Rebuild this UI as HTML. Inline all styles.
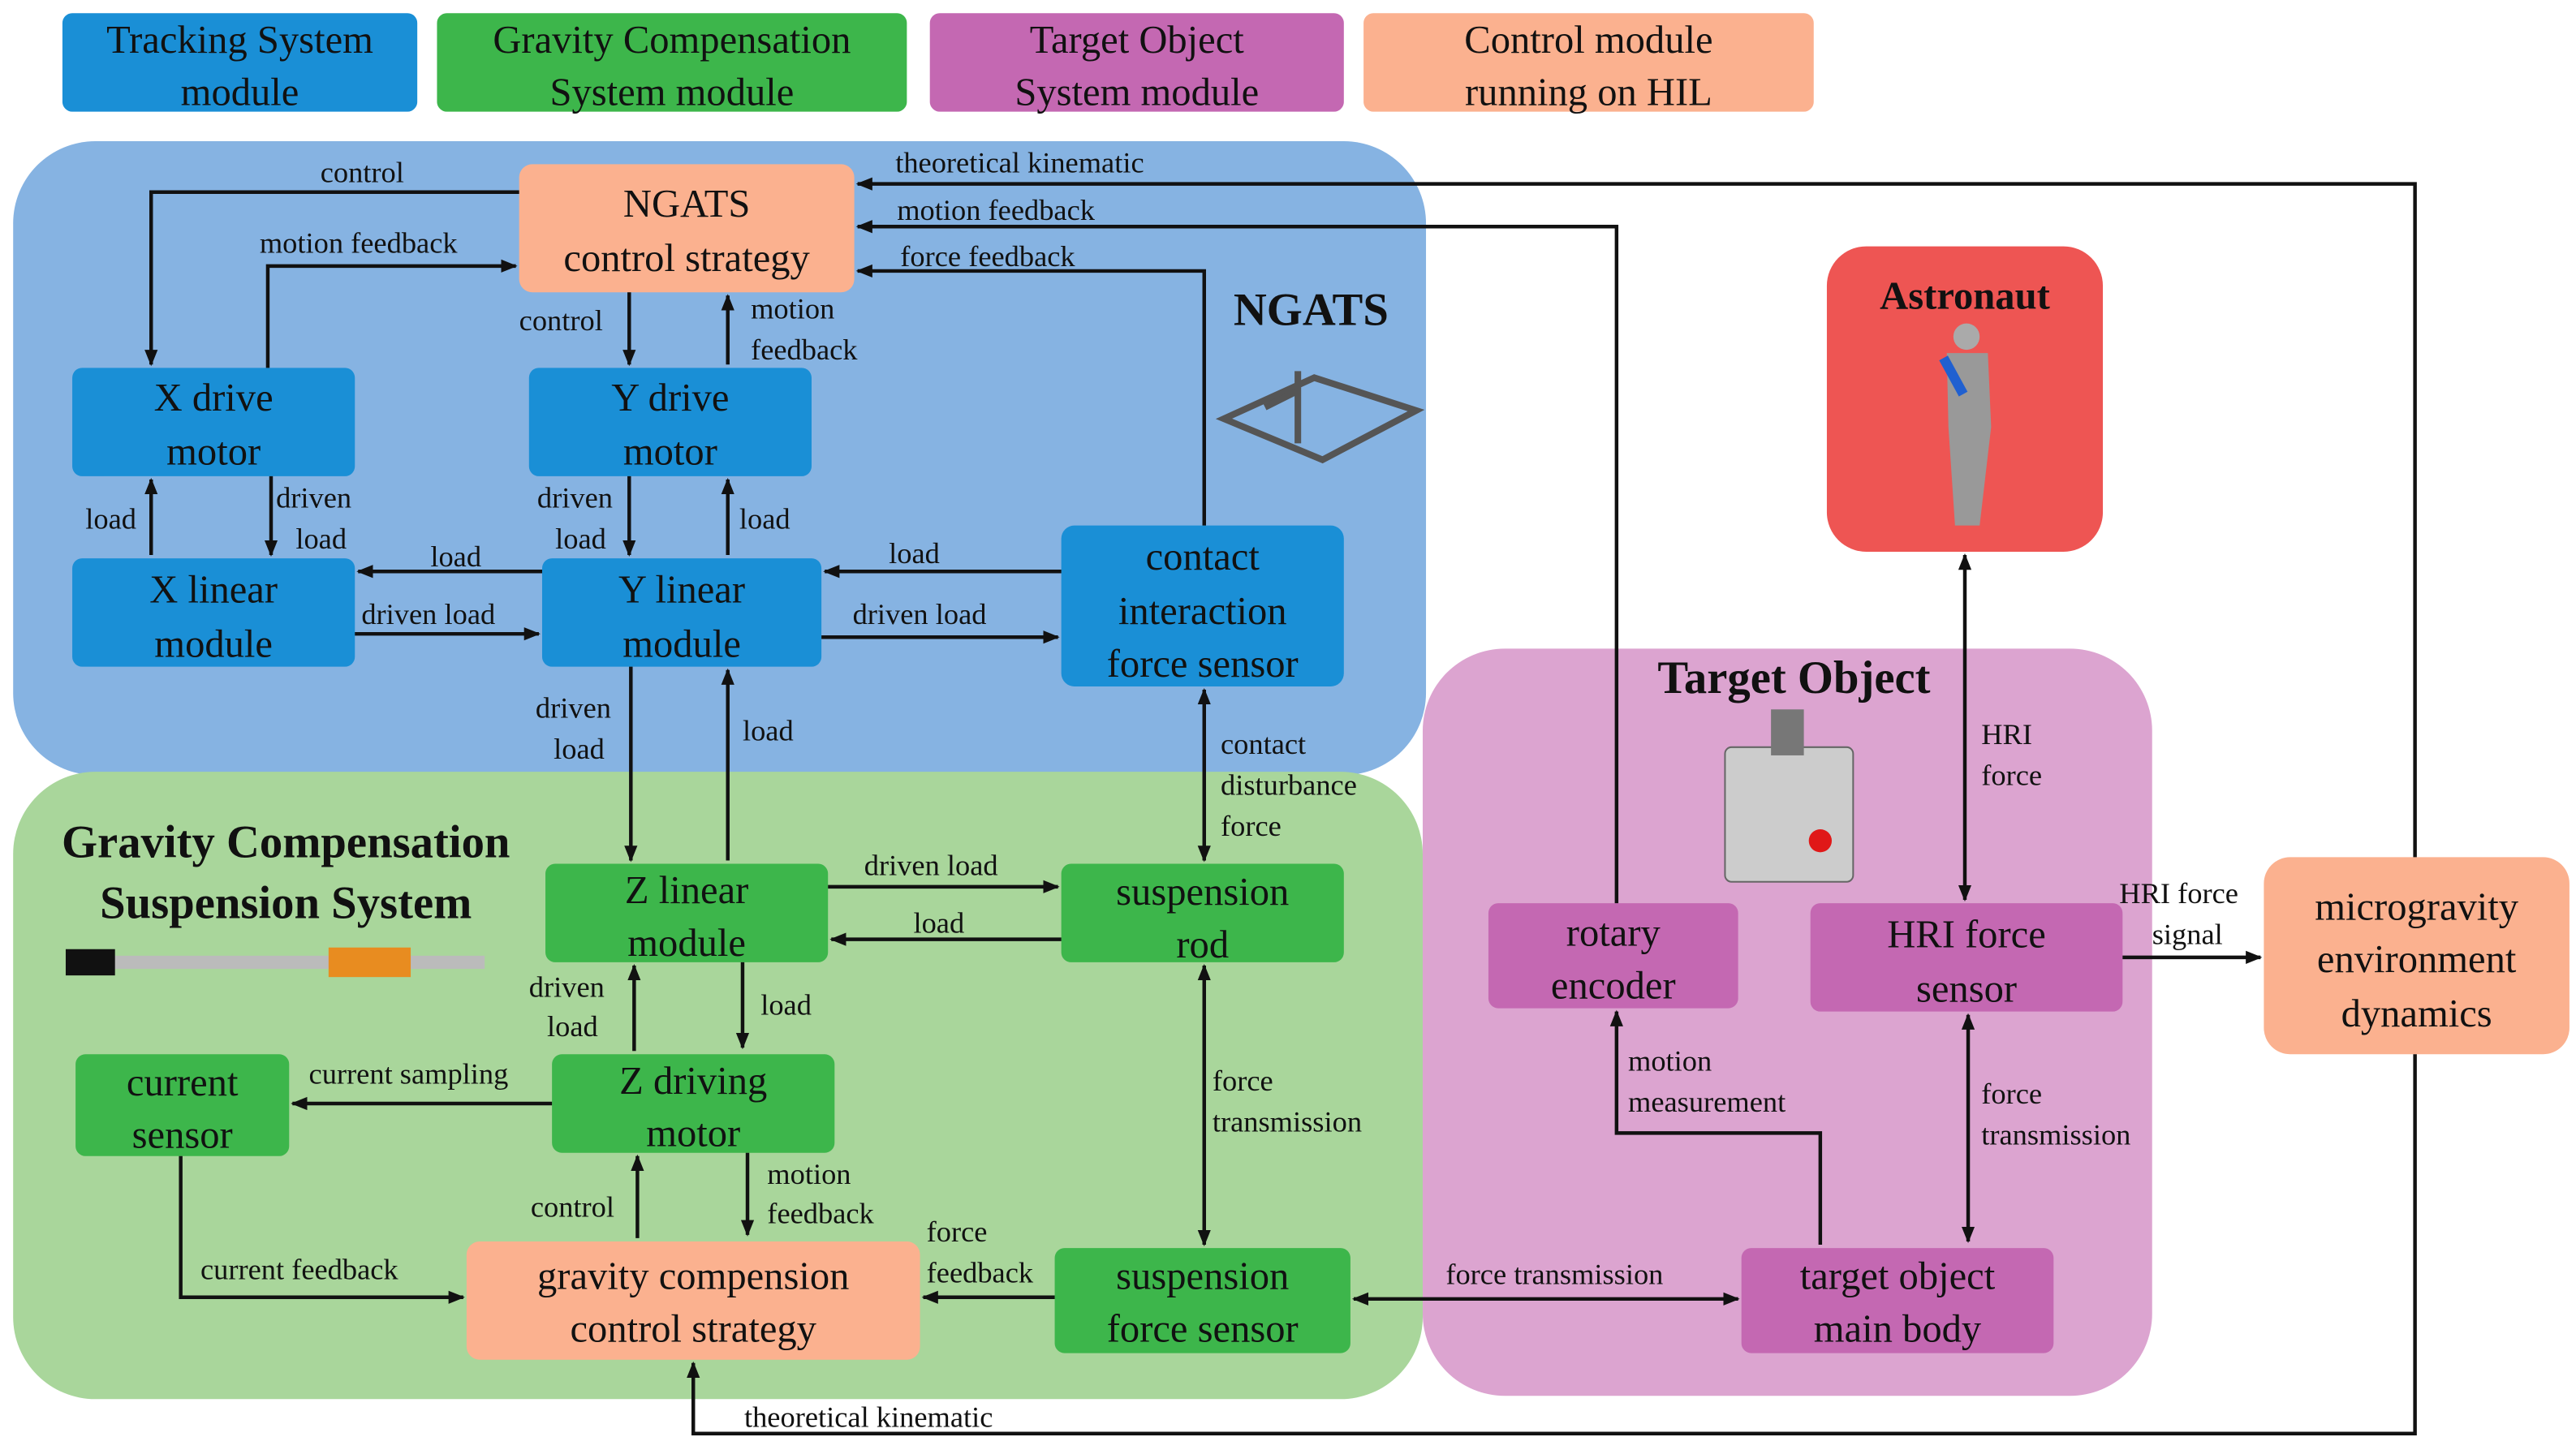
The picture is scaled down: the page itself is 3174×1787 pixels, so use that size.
<!DOCTYPE html>
<html><head><meta charset="utf-8"><style>
html,body{margin:0;padding:0;background:#fff;}
svg{display:block;}
svg, svg text{font-family:"Liberation Serif","Times New Roman",Times,serif;}
text{fill:#111;}
.b{font-size:24px;text-anchor:middle;}
.l{font-size:18px;}
.t{font-weight:bold;text-anchor:middle;}
path.a{fill:none;stroke:#111;stroke-width:2.2;}
</style></head><body>
<svg width="3174" height="1787" viewBox="0 0 1568 883" preserveAspectRatio="none" xmlns="http://www.w3.org/2000/svg" font-family="Liberation Serif, Times New Roman, serif">
<defs>
<marker id="m" markerWidth="10" markerHeight="10" refX="9" refY="5" orient="auto" markerUnits="userSpaceOnUse"><path d="M0,1 L10,5 L0,9 z" fill="#111"/></marker>
<marker id="s" markerWidth="10" markerHeight="10" refX="1" refY="5" orient="auto" markerUnits="userSpaceOnUse"><path d="M10,1 L0,5 L10,9 z" fill="#111"/></marker>
</defs>
<rect x="38" y="8" width="216" height="60" rx="6" fill="#1a8fd6"/>
<text class="b" x="146" y="32">Tracking System</text><text class="b" x="146" y="64">module</text>
<rect x="266" y="8" width="286" height="60" rx="6" fill="#3db64b"/>
<text class="b" x="409" y="32">Gravity Compensation</text><text class="b" x="409" y="64">System module</text>
<rect x="566" y="8" width="252" height="60" rx="6" fill="#c468b2"/>
<text class="b" x="692" y="32">Target Object</text><text class="b" x="692" y="64">System module</text>
<rect x="830" y="8" width="274" height="60" rx="6" fill="#fbb18f"/>
<text class="b" x="967" y="32">Control module</text><text class="b" x="967" y="64">running on HIL</text>
<rect x="8" y="86" width="860" height="386" rx="50" fill="#86b3e2"/>
<rect x="8" y="470" width="858" height="382" rx="50" fill="#a9d69b"/>
<rect x="866" y="395" width="444" height="455" rx="50" fill="#dca4d0"/>
<rect x="1112" y="150" width="168" height="186" rx="24" fill="#ee5553"/>
<g>
<rect x="316" y="100" width="204" height="78" rx="8" fill="#fbb18f"/>
<text class="b" x="418" y="132">NGATS</text><text class="b" x="418" y="165">control strategy</text>
<rect x="44" y="224" width="172" height="66" rx="6" fill="#1a8fd6"/>
<text class="b" x="130" y="250">X drive</text><text class="b" x="130" y="283">motor</text>
<rect x="322" y="224" width="172" height="66" rx="6" fill="#1a8fd6"/>
<text class="b" x="408" y="250">Y drive</text><text class="b" x="408" y="283">motor</text>
<rect x="44" y="340" width="172" height="66" rx="6" fill="#1a8fd6"/>
<text class="b" x="130" y="367">X linear</text><text class="b" x="130" y="400">module</text>
<rect x="330" y="340" width="170" height="66" rx="6" fill="#1a8fd6"/>
<text class="b" x="415" y="367">Y linear</text><text class="b" x="415" y="400">module</text>
<rect x="646" y="320" width="172" height="98" rx="8" fill="#1a8fd6"/>
<text class="b" x="732" y="347">contact</text><text class="b" x="732" y="380">interaction</text><text class="b" x="732" y="412">force sensor</text>
<rect x="332" y="526" width="172" height="60" rx="6" fill="#3db64b"/>
<text class="b" x="418" y="550">Z linear</text><text class="b" x="418" y="582">module</text>
<rect x="646" y="526" width="172" height="60" rx="6" fill="#3db64b"/>
<text class="b" x="732" y="551">suspension</text><text class="b" x="732" y="583">rod</text>
<rect x="46" y="642" width="130" height="62" rx="6" fill="#3db64b"/>
<text class="b" x="111" y="667">current</text><text class="b" x="111" y="699">sensor</text>
<rect x="336" y="642" width="172" height="60" rx="6" fill="#3db64b"/>
<text class="b" x="422" y="666">Z driving</text><text class="b" x="422" y="698">motor</text>
<rect x="284" y="756" width="276" height="72" rx="8" fill="#fbb18f"/>
<text class="b" x="422" y="785">gravity compension</text><text class="b" x="422" y="817">control strategy</text>
<rect x="642" y="760" width="180" height="64" rx="6" fill="#3db64b"/>
<text class="b" x="732" y="785">suspension</text><text class="b" x="732" y="817">force sensor</text>
<rect x="906" y="550" width="152" height="64" rx="6" fill="#c468b2"/>
<text class="b" x="982" y="576">rotary</text><text class="b" x="982" y="608">encoder</text>
<rect x="1102" y="550" width="190" height="66" rx="6" fill="#c468b2"/>
<text class="b" x="1197" y="577">HRI force</text><text class="b" x="1197" y="610">sensor</text>
<rect x="1060" y="760" width="190" height="64" rx="6" fill="#c468b2"/>
<text class="b" x="1155" y="785">target object</text><text class="b" x="1155" y="817">main body</text>
<rect x="1378" y="522" width="186" height="120" rx="16" fill="#fbb18f"/>
<text class="b" x="1471" y="560">microgravity</text><text class="b" x="1471" y="592">environment</text><text class="b" x="1471" y="625">dynamics</text>
</g>
<text class="t" x="798" y="198" font-size="28">NGATS</text>
<text class="t" x="1196" y="188" font-size="24">Astronaut</text>
<text class="t" x="1092" y="422" font-size="28">Target Object</text>
<text class="t" x="174" y="522" font-size="28">Gravity Compensation</text>
<text class="t" x="174" y="559" font-size="28">Suspension System</text>
<g stroke="#555" stroke-width="4" fill="none">
<path d="M745,255 L800,230 L862,250 L805,280 Z"/><path d="M770,248 L790,238 M790,226 V270"/>
</g>
<g fill="#ccc" stroke="#666"><rect x="1050" y="455" width="78" height="82" rx="4"/></g>
<circle cx="1108" cy="512" r="7" fill="#e01818"/><rect x="1078" y="432" width="20" height="28" fill="#777"/>
<rect x="40" y="582" width="255" height="8" fill="#bbb"/><rect x="40" y="578" width="30" height="16" fill="#111"/><rect x="200" y="577" width="50" height="18" fill="#e88c20"/>
<circle cx="1197" cy="205" r="8" fill="#aaa"/><path d="M1185,215 L1210,215 L1212,260 L1205,320 L1190,320 L1186,260 Z" fill="#999"/><path d="M1183,218 L1195,240" stroke="#2060d0" stroke-width="6"/>
<g>
<path class="a" d="M316 117 H92 V222" marker-end="url(#m)"/>
<path class="a" d="M163 224 V162 H314" marker-end="url(#m)"/>
<path class="a" d="M383 178 V222" marker-end="url(#m)"/>
<path class="a" d="M443 222 V180" marker-end="url(#m)"/>
<path class="a" d="M92 338 V292" marker-end="url(#m)"/>
<path class="a" d="M165 290 V338" marker-end="url(#m)"/>
<path class="a" d="M383 290 V338" marker-end="url(#m)"/>
<path class="a" d="M443 338 V292" marker-end="url(#m)"/>
<path class="a" d="M330 348 H218" marker-end="url(#m)"/>
<path class="a" d="M216 386 H328" marker-end="url(#m)"/>
<path class="a" d="M646 348 H502" marker-end="url(#m)"/>
<path class="a" d="M500 388 H644" marker-end="url(#m)"/>
<path class="a" d="M733 320 V165 H522" marker-end="url(#m)"/>
<path class="a" d="M384 406 V524" marker-end="url(#m)"/>
<path class="a" d="M443 524 V408" marker-end="url(#m)"/>
<path class="a" d="M733 420 V524" marker-start="url(#s)" marker-end="url(#m)"/>
<path class="a" d="M504 540 H644" marker-end="url(#m)"/>
<path class="a" d="M646 572 H506" marker-end="url(#m)"/>
<path class="a" d="M386 640 V588" marker-end="url(#m)"/>
<path class="a" d="M452 586 V638" marker-end="url(#m)"/>
<path class="a" d="M336 672 H178" marker-end="url(#m)"/>
<path class="a" d="M110 704 V790 H282" marker-end="url(#m)"/>
<path class="a" d="M388 754 V704" marker-end="url(#m)"/>
<path class="a" d="M455 702 V752" marker-end="url(#m)"/>
<path class="a" d="M642 790 H562" marker-end="url(#m)"/>
<path class="a" d="M733 588 V758" marker-start="url(#s)" marker-end="url(#m)"/>
<path class="a" d="M824 791 H1058" marker-start="url(#s)" marker-end="url(#m)"/>
<path class="a" d="M1108 758 V690 H984 V616" marker-end="url(#m)"/>
<path class="a" d="M1198 756 V618" marker-start="url(#s)" marker-end="url(#m)"/>
<path class="a" d="M1196 548 V338" marker-start="url(#s)" marker-end="url(#m)"/>
<path class="a" d="M1292 583 H1376" marker-end="url(#m)"/>
<path class="a" d="M984 550 V138 H522" marker-end="url(#m)"/>
<path class="a" d="M1470 522 V112 H522" marker-end="url(#m)"/>
<path class="a" d="M1470 642 V873 H422 V830" marker-end="url(#m)"/>
</g>
<g>
<text class="l" x="195" y="111">control</text>
<text class="l" x="158" y="154">motion feedback</text>
<text class="l" x="316" y="201">control</text>
<text class="l" x="457" y="194">motion</text><text class="l" x="457" y="219">feedback</text>
<text class="l" x="52" y="322">load</text>
<text class="l" x="168" y="309">driven</text><text class="l" x="180" y="334">load</text>
<text class="l" x="327" y="309">driven</text><text class="l" x="338" y="334">load</text>
<text class="l" x="450" y="322">load</text>
<text class="l" x="262" y="345">load</text>
<text class="l" x="220" y="380">driven load</text>
<text class="l" x="541" y="343">load</text>
<text class="l" x="519" y="380">driven load</text>
<text class="l" x="548" y="162">force feedback</text>
<text class="l" x="546" y="134">motion feedback</text>
<text class="l" x="545" y="105">theoretical kinematic</text>
<text class="l" x="326" y="437">driven</text><text class="l" x="337" y="462">load</text>
<text class="l" x="452" y="451">load</text>
<text class="l" x="743" y="459">contact</text><text class="l" x="743" y="484">disturbance</text><text class="l" x="743" y="509">force</text>
<text class="l" x="526" y="533">driven load</text>
<text class="l" x="556" y="568">load</text>
<text class="l" x="322" y="607">driven</text><text class="l" x="333" y="631">load</text>
<text class="l" x="463" y="618">load</text>
<text class="l" x="188" y="660">current sampling</text>
<text class="l" x="122" y="779">current feedback</text>
<text class="l" x="323" y="741">control</text>
<text class="l" x="467" y="721">motion</text><text class="l" x="467" y="745">feedback</text>
<text class="l" x="564" y="756">force</text><text class="l" x="564" y="781">feedback</text>
<text class="l" x="738" y="664">force</text><text class="l" x="738" y="689">transmission</text>
<text class="l" x="880" y="782">force transmission</text>
<text class="l" x="991" y="652">motion</text><text class="l" x="991" y="677">measurement</text>
<text class="l" x="1206" y="672">force</text><text class="l" x="1206" y="697">transmission</text>
<text class="l" x="1206" y="453">HRI</text><text class="l" x="1206" y="478">force</text>
<text class="l" x="1290" y="550">HRI force</text><text class="l" x="1310" y="575">signal</text>
<text class="l" x="453" y="869">theoretical kinematic</text>
</g>
</svg>
</body></html>
